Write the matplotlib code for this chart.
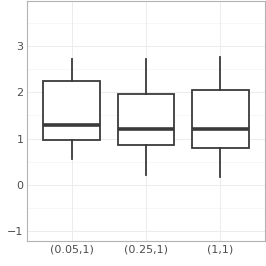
import matplotlib
matplotlib.use("Agg")
import matplotlib.pyplot as plt

groups = ["(0.05,1)", "(0.25,1)", "(1,1)"]
whislo = [0.55, 0.22, 0.16]
q1 = [0.96, 0.87, 0.79]
med = [1.285, 1.205, 1.21]
q3 = [2.25, 1.955, 2.055]
whishi = [2.73, 2.72, 2.76]

stats = [dict(label=g, whislo=a, q1=b, med=c, q3=d, whishi=e, fliers=[])
         for g, a, b, c, d, e in zip(groups, whislo, q1, med, q3, whishi)]

fig = plt.figure(figsize=(2.66, 2.66), dpi=100)
ax = fig.add_axes([0.1015, 0.094, 0.895, 0.904])
ax.set_xlim(0.4, 3.6)
ax.set_ylim(-1.22, 3.99)

for y in [-0.5, 0.5, 1.5, 2.5, 3.5]:
    ax.axhline(y, color="#f4f4f4", lw=0.5, zorder=0)
for y in [-1, 0, 1, 2, 3]:
    ax.axhline(y, color="#ececec", lw=0.7, zorder=0)
for x in [1, 2, 3]:
    ax.axvline(x, color="#ececec", lw=0.7, zorder=0)

ink = "#3a3a3a"
ax.bxp(stats, positions=[1, 2, 3], widths=0.76, showcaps=False, patch_artist=True,
       boxprops=dict(facecolor="white", edgecolor=ink, lw=1.3),
       whiskerprops=dict(color=ink, lw=1.3),
       medianprops=dict(color=ink, lw=2.6, solid_capstyle="butt"))

ax.set_yticks([-1, 0, 1, 2, 3])
ax.set_yticklabels(["\u22121", "0", "1", "2", "3"])
ax.set_xticks([1, 2, 3])
ax.set_xticklabels(groups)
ax.tick_params(length=0, labelsize=8, labelcolor="#4d4d4d", pad=2.5)
for s in ax.spines.values():
    s.set_color("#b3b3b3")
    s.set_linewidth(0.8)

fig.savefig("out.png", dpi=100)
